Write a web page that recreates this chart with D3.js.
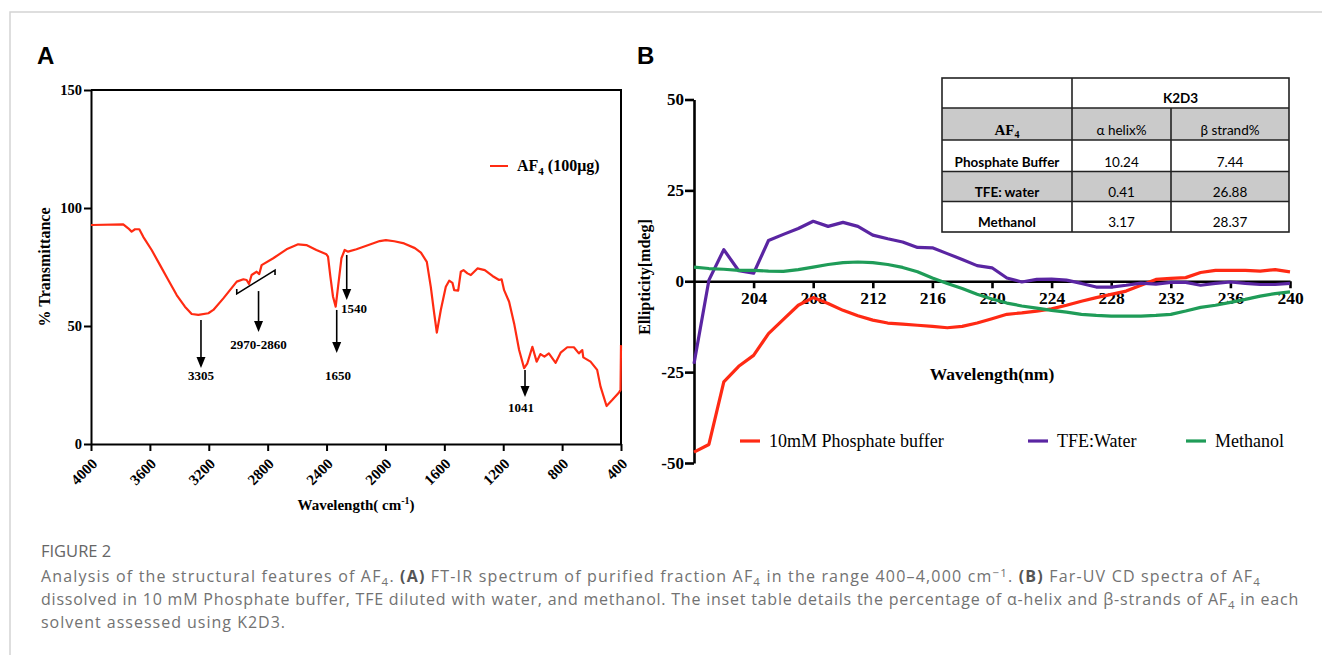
<!DOCTYPE html>
<html>
<head>
<meta charset="utf-8">
<script src="https://cdn.jsdelivr.net/npm/d3@7/dist/d3.min.js"></script>
<style>
  body { margin: 0; background: #fff; }
  svg { display: block; }
  .serif { font-family: "Liberation Serif", "Times New Roman", serif; font-weight: bold; fill: #000; }
  .axis path, .axis line { stroke: #000; stroke-width: 2; }
  .axis text { font-family: "Liberation Serif", "Times New Roman", serif; font-weight: bold; fill: #000; }
</style>
</head>
<body>
<div class="container"></div>
<script>
// ---- panel A : FT-IR spectrum (wavenumber cm-1, % transmittance)
const irWave = [4000, 3995, 3781, 3747, 3724, 3701, 3672, 3645, 3588, 3531, 3475, 3418, 3362, 3316, 3271,
  3203, 3169, 3101, 3010, 2965, 2943, 2927, 2909, 2875, 2857, 2841, 2762, 2672, 2593, 2537, 2469,
  2401, 2390, 2374, 2356, 2338, 2322, 2299, 2277, 2254, 2197, 2120, 2039, 1997, 1940, 1873, 1800,
  1759, 1719, 1692, 1669, 1651, 1624, 1590, 1567, 1545, 1533, 1506, 1488, 1470, 1443, 1420, 1375,
  1325, 1273, 1228, 1211, 1194, 1160, 1126, 1092, 1058, 1036, 1002, 973, 947, 920, 890, 844, 810,
  765, 720, 686, 663, 656, 607, 562, 539, 498, 460, 415, 403, 400];
const irTrans = [92.8, 92.8, 93.1, 91.4, 90.0, 91.0, 91.0, 87.8, 82.2, 75.8, 69.5, 63.1, 58.2, 55.1, 54.7,
  55.4, 56.8, 61.7, 68.8, 69.8, 69.5, 67.8, 71.6, 73.0, 72.0, 75.8, 78.7, 82.5, 84.6, 84.3, 82.2,
  80.4, 79.4, 70.9, 62.4, 58.2, 66.6, 78.7, 82.2, 81.5, 82.5, 84.2, 86.0, 86.4, 85.9, 85.0, 83.0,
  81.1, 77.2, 66.6, 55.4, 47.2, 56.8, 66.6, 69.2, 68.3, 65.2, 65.0, 73.0, 73.7, 72.3, 71.6, 74.4,
  73.7, 71.2, 69.5, 69.8, 65.2, 60.3, 51.1, 39.8, 32.1, 34.2, 41.2, 34.9, 38.1, 37.0, 38.4, 34.4, 38.7,
  41.0, 41.0, 38.4, 39.8, 36.7, 34.9, 31.4, 24.3, 16.1, 18.6, 21.7, 22.9, 41.9];
const irTicksX = [4000, 3600, 3200, 2800, 2400, 2000, 1600, 1200, 800, 400];
const irTicksY = [0, 50, 100, 150];

// peak annotations (data space): arrow x, arrow top, arrow tip, label x, label baseline
const peakLabel = ["3305", "2970-2860", "1650", "1540", "1041"];
const peakWave  = [3253, 2862, 2331, 2263, 1052];
const peakTop   = [52.5, 64.8, 56.8, 80.1, 31.4];
const peakTip   = [32.2, 47.5, 38.6, 61.0, 19.9];
const peakTextX = [3253, 2862, 2322, 2214, 1079];
const peakTextY = [27.1, 40.3, 27.1, 55.5, 13.6];
const bracketWave = [3010, 2750];
const bracketTrans = [63.6, 73.7];

// ---- panel B : far-UV CD spectra (nm, mdeg)
const cdWave = d3.range(200, 241);
const phosphate = [-47, -44.9, -27.7, -23.4, -20.4, -14.4, -10.5, -6.6, -4.5, -6.1, -8, -9.5, -10.7, -11.5,
  -11.8, -12.1, -12.4, -12.8, -12.4, -11.5, -10.3, -9.1, -8.7, -8.2, -7.6, -6.6, -5.5, -4.5, -3.6, -2.7,
  -1.1, 0.5, 0.8, 1.0, 2.4, 3.0, 3.0, 3.0, 2.8, 3.2, 2.6];
const tfe = [-22.7, 0.3, 8.7, 2.9, 2.2, 11.2, 12.9, 14.5, 16.5, 15.1, 16.2, 15.1, 12.7, 11.7, 10.8, 9.3,
  9.2, 7.6, 6.0, 4.3, 3.7, 0.9, -0.2, 0.5, 0.6, 0.3, -0.6, -1.6, -1.6, -1.1, -0.5, -0.8, -0.3, -0.3,
  -1.1, -0.6, -0.2, -0.6, -0.9, -0.9, -0.6];
const methanol = [3.9, 3.5, 3.3, 3.0, 3.0, 2.8, 2.7, 3.2, 3.9, 4.6, 5.1, 5.3, 5.1, 4.6, 3.8, 2.6, 0.9,
  -0.6, -2.0, -3.6, -4.9, -6.0, -6.8, -7.4, -8.0, -8.5, -9.1, -9.4, -9.6, -9.6, -9.6, -9.4, -9.1, -8.2,
  -7.2, -6.6, -5.8, -5.0, -4.1, -3.4, -2.9];
const cdNames = ["10mM Phosphate buffer", "TFE:Water", "Methanol"];
const cdColors = ["#ff2a14", "#5a25a2", "#1f9c58"];
const cdTicksX = [204, 208, 212, 216, 220, 224, 228, 232, 236, 240];
const cdTicksY = [-50, -25, 0, 25, 50];

// inset table (K2D3)
const solvents = ["Phosphate Buffer", "TFE: water", "Methanol"];
const helixPct = ["10.24", "0.41", "3.17"];
const strandPct = ["7.44", "26.88", "28.37"];

const svg = d3.select('.container').append('svg')
  .attr('width', 1322)
  .attr('height', 655);

// card frame
svg.append('path')
  .attr('d', 'M10,655 V12 H1322')
  .attr('fill', 'none')
  .attr('stroke', '#d4d4d4')
  .attr('stroke-width', 1.5);

// panel letters
svg.selectAll('text.panel')
  .data([['A', 37], ['B', 637]])
  .enter().append('text')
  .attr('class', 'panel')
  .attr('x', d => d[1]).attr('y', 64)
  .style('font-family', '"Liberation Sans", Arial, sans-serif')
  .style('font-weight', 'bold')
  .style('font-size', '24px')
  .text(d => d[0]);

// ===================== panel A
let xA = d3.scaleLinear().domain([4000, 400]).range([91, 621]);
let yA = d3.scaleLinear().domain([0, 150]).range([444, 90]);

let gA = svg.append('g');

gA.append('g')
  .attr('class', 'axis')
  .attr('transform', `translate(0,${yA(0)})`)
  .call(d3.axisBottom(xA).tickValues(irTicksX).tickSize(7).tickSizeOuter(0).tickFormat(d => String(d)))
  .call(g => g.selectAll('text')
    .attr('text-anchor', 'end')
    .attr('x', 0).attr('y', 0).attr('dy', '0.35em')
    .attr('transform', 'translate(3,17) rotate(-45)')
    .style('font-size', '15px'));

gA.append('g')
  .attr('class', 'axis')
  .attr('transform', `translate(${xA(4000)},0)`)
  .call(d3.axisLeft(yA).tickValues(irTicksY).tickSize(7).tickSizeOuter(0))
  .call(g => g.selectAll('text').style('font-size', '14.5px').attr('x', -9));

// top and right sides of the frame
gA.append('path')
  .attr('d', `M${xA(4000)},${yA(150)} H${xA(400)} V${yA(0)}`)
  .attr('fill', 'none').attr('stroke', '#000').attr('stroke-width', 2);

gA.append('path')
  .datum(irWave.map((w, i) => [w, irTrans[i]]))
  .attr('fill', 'none')
  .attr('stroke', '#ff2b12')
  .attr('stroke-width', 2.2)
  .attr('stroke-linejoin', 'round')
  .attr('d', d3.line().x(d => xA(d[0])).y(d => yA(d[1])));

// arrows
peakLabel.forEach((lab, i) => {
  let x = xA(peakWave[i]), y0 = yA(peakTop[i]), y1 = yA(peakTip[i]);
  gA.append('line')
    .attr('x1', x).attr('x2', x).attr('y1', y0).attr('y2', y1 - 8)
    .attr('stroke', '#000').attr('stroke-width', 1.6);
  gA.append('path')
    .attr('d', `M${x - 4.5},${y1 - 11} L${x + 4.5},${y1 - 11} L${x},${y1} Z`)
    .attr('fill', '#000');
  gA.append('text')
    .attr('class', 'serif')
    .attr('x', xA(peakTextX[i])).attr('y', yA(peakTextY[i]))
    .attr('text-anchor', 'middle')
    .style('font-size', '13px')
    .text(lab);
});

// bracket over the 2970-2860 region
{
  let bx0 = xA(bracketWave[0]), by0 = yA(bracketTrans[0]);
  let bx1 = xA(bracketWave[1]), by1 = yA(bracketTrans[1]);
  gA.append('path')
    .attr('d', `M${bx0},${by0 - 5} L${bx0},${by0} L${bx1},${by1} L${bx1},${by1 + 5}`)
    .attr('fill', 'none').attr('stroke', '#000').attr('stroke-width', 1.6);
}

// legend
gA.append('line')
  .attr('x1', 490).attr('x2', 508).attr('y1', 166).attr('y2', 166)
  .attr('stroke', '#ff2b12').attr('stroke-width', 2);
{
  let t = gA.append('text').attr('class', 'serif').attr('x', 517).attr('y', 171).style('font-size', '16px');
  t.append('tspan').text('AF');
  t.append('tspan').attr('dy', 4).style('font-size', '11px').text('4');
  t.append('tspan').attr('dy', -4).text(' (100μg)');
}

// axis titles
{
  let t = gA.append('text').attr('class', 'serif')
    .attr('x', xA(2200)).attr('y', 510).attr('text-anchor', 'middle').style('font-size', '15px');
  t.append('tspan').text('Wavelength( cm');
  t.append('tspan').attr('dy', -6).style('font-size', '10px').text('-1');
  t.append('tspan').attr('dy', 6).text(')');
}
gA.append('text').attr('class', 'serif')
  .attr('transform', `translate(50,${yA(75)}) rotate(-90)`)
  .attr('text-anchor', 'middle')
  .style('font-size', '16px')
  .text('% Transmittance');

// ===================== panel B
let xB = d3.scaleLinear().domain([200, 240]).range([694, 1290]);
let yB = d3.scaleLinear().domain([-50, 50]).range([463, 99.5]);

let gB = svg.append('g');

gB.append('g')
  .attr('class', 'axis')
  .attr('transform', `translate(${xB(200)},0)`)
  .call(d3.axisLeft(yB).tickValues(cdTicksY).tickSize(9).tickSizeOuter(0).tickFormat(d => String(d)))
  .call(g => g.selectAll('path,line').style('stroke-width', 2.6))
  .call(g => g.selectAll('text').style('font-size', '17px').attr('x', -10));

gB.append('g')
  .attr('class', 'axis')
  .attr('transform', `translate(0,${yB(0)})`)
  .call(d3.axisBottom(xB).tickValues(cdTicksX).tickSize(7).tickSizeOuter(0))
  .call(g => g.selectAll('path,line').style('stroke-width', 2.6))
  .call(g => g.selectAll('text').style('font-size', '17.5px').attr('y', 10).attr('dy', '0.71em'));

let cdLine = d3.line().x((d, i) => xB(cdWave[i])).y(d => yB(d));
gB.selectAll('path.cd')
  .data([phosphate, tfe, methanol])
  .enter().append('path')
  .attr('class', 'cd')
  .attr('fill', 'none')
  .attr('stroke', (d, i) => cdColors[i])
  .attr('stroke-width', 3.2)
  .attr('stroke-linejoin', 'round')
  .attr('d', cdLine);

// legend
let legX = [740, 1028, 1186];
let leg = gB.selectAll('g.leg')
  .data(cdNames)
  .enter().append('g')
  .attr('class', 'leg')
  .attr('transform', (d, i) => `translate(${legX[i]},441)`);
leg.append('line')
  .attr('x1', 0).attr('x2', 20)
  .attr('stroke', (d, i) => cdColors[i]).attr('stroke-width', 3.2);
leg.append('text')
  .attr('x', 29).attr('y', 6)
  .style('font-family', '"Liberation Serif", "Times New Roman", serif')
  .style('font-size', '18px')
  .text(d => d);

gB.append('text').attr('class', 'serif')
  .attr('x', 992).attr('y', 380)
  .attr('text-anchor', 'middle')
  .style('font-size', '17.5px')
  .text('Wavelength(nm)');
gB.append('text').attr('class', 'serif')
  .attr('transform', `translate(650,277) rotate(-90)`)
  .attr('text-anchor', 'middle')
  .style('font-size', '16px')
  .text('Ellipticity[mdeg]');

// inset table
let colX = [942, 1072, 1171, 1289];
let rowY = [78, 108, 140, 171.5, 201.5, 232];
let tab = svg.append('g').style('font-family', 'Lato, "Open Sans", sans-serif').style('font-size', '13.5px');
[1, 3].forEach(r => tab.append('rect')
  .attr('x', colX[0]).attr('y', rowY[r])
  .attr('width', colX[3] - colX[0]).attr('height', rowY[r + 1] - rowY[r])
  .attr('fill', '#cacaca'));
tab.append('rect')
  .attr('x', colX[0]).attr('y', rowY[0])
  .attr('width', colX[3] - colX[0]).attr('height', rowY[5] - rowY[0])
  .attr('fill', 'none').attr('stroke', '#222').attr('stroke-width', 1.6);
rowY.slice(1, 5).forEach(y => tab.append('line')
  .attr('x1', colX[0]).attr('x2', colX[3]).attr('y1', y).attr('y2', y)
  .attr('stroke', '#222').attr('stroke-width', 1.6));
tab.append('line').attr('x1', colX[1]).attr('x2', colX[1]).attr('y1', rowY[0]).attr('y2', rowY[5])
  .attr('stroke', '#222').attr('stroke-width', 1.6);
tab.append('line').attr('x1', colX[2]).attr('x2', colX[2]).attr('y1', rowY[1]).attr('y2', rowY[5])
  .attr('stroke', '#222').attr('stroke-width', 1.6);

let mid = i => (colX[i] + colX[i + 1]) / 2;
tab.append('text').attr('x', (colX[1] + colX[3]) / 2).attr('y', rowY[1] - 5)
  .attr('text-anchor', 'middle').style('font-weight', 'bold').text('K2D3');
{
  let t = tab.append('text').attr('class', 'serif').attr('x', mid(0)).attr('y', rowY[2] - 5)
    .attr('text-anchor', 'middle').style('font-size', '15px');
  t.append('tspan').text('AF');
  t.append('tspan').attr('dy', 3).style('font-size', '10px').text('4');
}
tab.append('text').attr('x', mid(1)).attr('y', rowY[2] - 5).attr('text-anchor', 'middle').text('α helix%');
tab.append('text').attr('x', mid(2)).attr('y', rowY[2] - 5).attr('text-anchor', 'middle').text('β strand%');
solvents.forEach((s, i) => {
  let y = rowY[i + 3] - 5;
  tab.append('text').attr('x', mid(0)).attr('y', y).attr('text-anchor', 'middle')
    .style('font-weight', 'bold').text(s);
  tab.append('text').attr('x', mid(1)).attr('y', y).attr('text-anchor', 'middle').text(helixPct[i]);
  tab.append('text').attr('x', mid(2)).attr('y', y).attr('text-anchor', 'middle').text(strandPct[i]);
});

// ===================== caption
const captionLines = [
  [['Analysis of the structural features of AF'], ['4', 'sub'], ['. '], ['(A)', 'b'],
   [' FT-IR spectrum of purified fraction AF'], ['4', 'sub'], [' in the range 400–4,000 cm'], ['−1', 'sup'],
   ['. '], ['(B)', 'b'], [' Far-UV CD spectra of AF'], ['4', 'sub']],
  [['dissolved in 10 mM Phosphate buffer, TFE diluted with water, and methanol. The inset table details the percentage of α-helix and β-strands of AF'],
   ['4', 'sub'], [' in each']],
  [['solvent assessed using K2D3.']]
];
const captionWidth = [1220, 1258, 245];

let cap = svg.append('g')
  .style('font-family', '"Open Sans", "Noto Sans", sans-serif')
  .style('fill', '#727272');

cap.append('text')
  .attr('x', 41).attr('y', 557)
  .style('font-size', '16.5px').style('fill', '#666')
  .text('FIGURE 2');

captionLines.forEach((segs, li) => {
  let t = cap.append('text').attr('x', 41).attr('y', 582 + li * 23).style('font-size', '16px');
  let shift = 0;
  segs.forEach(s => {
    let target = s[1] === 'sub' ? 4 : s[1] === 'sup' ? -5 : 0;
    let sp = t.append('tspan').attr('dy', target - shift).text(s[0]);
    shift = target;
    if (s[1] === 'sub' || s[1] === 'sup') sp.style('font-size', '11.5px');
    if (s[1] === 'b') sp.style('font-weight', 'bold').style('fill', '#555');
  });
  let w = t.node().getComputedTextLength();
  let n = t.text().length;
  t.style('letter-spacing', ((captionWidth[li] - w) / n) + 'px');
});
</script>
</body>
</html>
